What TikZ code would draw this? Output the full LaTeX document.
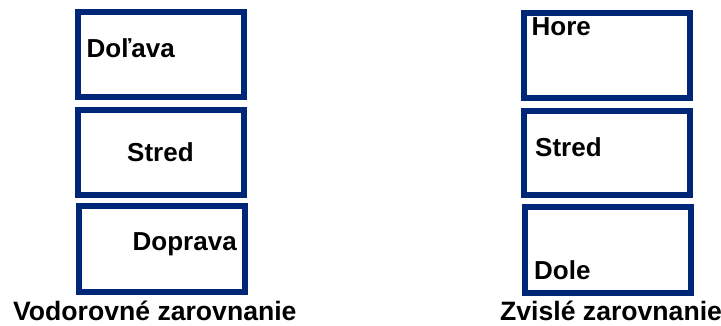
\documentclass[tikz,border=0pt]{standalone}
\usepackage{fontspec}
\setmainfont{Liberation Sans}
\definecolor{navy}{RGB}{0,38,119}
\begin{document}
\begin{tikzpicture}[x=1pt,y=1pt,
  box/.style={draw=navy, line width=6pt, minimum width=166pt, inner sep=0pt, outer sep=0pt},
  lbl/.style={anchor=base west, inner sep=0pt, font=\fontsize{26}{30}\selectfont\bfseries},
  captext/.style={anchor=base west, inner sep=0pt, font=\fontsize{26.6}{30}\selectfont\bfseries}]
\useasboundingbox (0,0) rectangle (721,326);
% left column
\node[box, minimum height=85pt] (l1) at (161,271.5) {};
\node[box, minimum height=85pt] (l2) at (161,173.5) {};
\node[box, minimum height=86pt] (l3) at (162,77) {};
\node[lbl] (t1) at (86.5,268) {Doľava};
\node[lbl] (t2) at (127,164) {Stred};
\node[lbl] (t3) at (132.5,75) {Doprava};
% right column
\node[box, minimum height=85pt] (r1) at (607,270.5) {};
\node[box, minimum height=84pt] (r2) at (607,173) {};
\node[box, minimum height=86pt] (r3) at (608,76) {};
\node[lbl] (u1) at (531.5,290) {Hore};
\node[lbl] (u2) at (535,169) {Stred};
\node[lbl] (u3) at (534,46.5) {Dole};
% captions
\node[captext] (c1) at (13,5) {Vodorovné zarovnanie};
\node[captext] (c2) at (500,5) {Zvislé zarovnanie};
\end{tikzpicture}
\end{document}
